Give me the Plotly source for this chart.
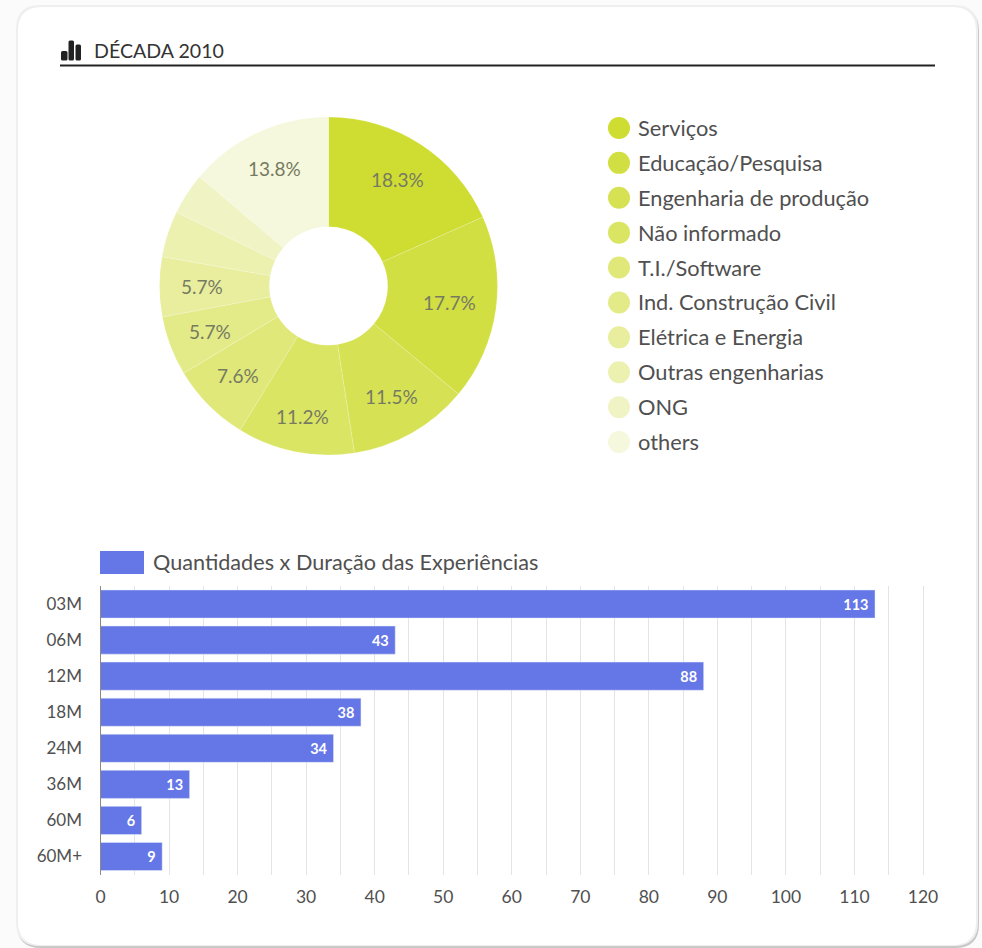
import math
import plotly.graph_objects as go

W, H = 982, 948

# Sector shares (%) for the decade
sectors = ["Serviços", "Educação/Pesquisa", "Engenharia de produção", "Não informado",
           "T.I./Software", "Ind. Construção Civil", "Elétrica e Energia",
           "Outras engenharias", "ONG", "others"]
shares = [18.3, 17.7, 11.5, 11.2, 7.6, 5.7, 5.7, 4.4, 4.0, 13.8]
sector_colors = ["#cfdd33", "#d2df42", "#d6e254", "#dae564", "#dfe878",
                 "#e3eb89", "#e8ee9e", "#ecf1b0", "#f0f4c4", "#f5f8dc"]
label_radius = [127, 122, 127, 133, 127, 127, 127, 127, 127, 129]

# Number of experiences per duration bucket
durations = ["03M", "06M", "12M", "18M", "24M", "36M", "60M", "60M+"]
counts = [113, 43, 88, 38, 34, 13, 6, 9]
x_ticks = list(range(0, 121, 10))

FONT = "Lato"
TEXT = "#505050"


def px(x):
    return x / W


def py(y):
    return 1 - y / H


def rounded(x0, y0, x1, y1, r):
    """Rounded rectangle path, in paper coordinates, from pixel corners."""
    p = lambda x, y: f"{px(x):.5f},{py(y):.5f}"
    return (f"M{p(x0 + r, y0)} L{p(x1 - r, y0)} Q{p(x1, y0)} {p(x1, y0 + r)} "
            f"L{p(x1, y1 - r)} Q{p(x1, y1)} {p(x1 - r, y1)} L{p(x0 + r, y1)} "
            f"Q{p(x0, y1)} {p(x0, y1 - r)} L{p(x0, y0 + r)} Q{p(x0, y0)} {p(x0 + r, y0)} Z")


fig = go.Figure()

# Donut
CX, CY, R = 328.5, 286, 169
fig.add_trace(go.Pie(
    labels=sectors, values=shares, sort=False, direction="clockwise", rotation=0,
    hole=0.35, marker=dict(colors=sector_colors, line=dict(color="rgba(255,255,255,0.35)", width=0.5)),
    textinfo="none",
    domain=dict(x=[px(CX - R), px(CX + R)], y=[py(CY + R), py(CY - R)]),
    showlegend=False,
))

# Horizontal bars
fig.add_trace(go.Bar(
    x=counts, y=durations, orientation="h", marker=dict(color="#6576e6"),
    text=counts, texttemplate="%{text}\u00a0", textposition="inside",
    insidetextanchor="end", textangle=0,
    textfont=dict(family=FONT, size=14.5, color="white", weight="bold"),
    xaxis="x", yaxis="y", showlegend=False,
))

# Sector key: dots on a hidden axis with one row per sector
fig.add_trace(go.Scatter(
    x=[0] * len(sectors), y=sectors, mode="markers", cliponaxis=False,
    marker=dict(size=22, color=sector_colors), xaxis="x2", yaxis="y2",
    showlegend=False, hoverinfo="skip",
))

annotations = [
    dict(x=0, y=name, xref="x2", yref="y2", text=name, showarrow=False,
         xanchor="left", yanchor="middle", xshift=17, yshift=0.5,
         font=dict(family=FONT, size=21.8, color=TEXT))
    for name in sectors
]

# Percentage labels on the ring, at the middle of each slice; small slices stay unlabelled
total = sum(shares)
running = 0
for value, radius in zip(shares, label_radius):
    mid = (running + value / 2) / total * 2 * math.pi
    running += value
    if value < 5:
        continue
    annotations.append(dict(
        x=px(CX + radius * math.sin(mid)), y=py(CY - radius * math.cos(mid)),
        xref="paper", yref="paper", text=f"{value}%", showarrow=False,
        xanchor="center", yanchor="middle",
        font=dict(family=FONT, size=19, color="#777a62"),
    ))

annotations += [
    dict(x=px(92), y=py(51), xref="paper", yref="paper", text="DÉCADA 2010",
         showarrow=False, xanchor="left", yanchor="middle",
         font=dict(family=FONT, size=19.6, color="#333333")),
    dict(x=px(151), y=py(562), xref="paper", yref="paper",
         text="Quantidades x Duração das Experiências", showarrow=False,
         xanchor="left", yanchor="middle",
         font=dict(family=FONT, size=21.65, color=TEXT)),
]


def card_path(x0, y0, x1, y1, r, fill):
    return dict(type="path", path=rounded(x0, y0, x1, y1, r), xref="paper", yref="paper",
                layer="below", fillcolor=fill, line=dict(width=0))


shapes = [
    # Card with a soft edge
    card_path(17, 7, 979, 948, 24, "#c8c8c8"),
    card_path(16, 5, 978, 946, 24, "#efefef"),
    card_path(18, 7, 976, 945, 24, "#ffffff"),
    # Heading icon and rule
    card_path(61, 51, 67.5, 60.5, 1.5, "#222222"),
    card_path(68.5, 40.5, 74, 60.5, 1.5, "#222222"),
    card_path(75.5, 44.5, 81, 60.5, 1.5, "#222222"),
    dict(type="line", xref="paper", yref="paper", x0=px(60), x1=px(935), y0=py(65.5), y1=py(65.5),
         line=dict(color="#222222", width=2)),
    # Bar series key
    dict(type="rect", xref="paper", yref="paper", x0=px(100), x1=px(144), y0=py(551), y1=py(574),
         fillcolor="#6576e6", line=dict(width=0)),
]

fig.update_layout(
    width=W, height=H, autosize=False,
    margin=dict(l=0, r=0, t=0, b=0, pad=0, autoexpand=False),
    paper_bgcolor="#fbfbfb", plot_bgcolor="rgba(0,0,0,0)",
    font=dict(family=FONT, color=TEXT), bargap=0.22,
    annotations=annotations, shapes=shapes,
    xaxis=dict(domain=[px(100.5), px(925.06)], range=[0, 120.3], tickmode="array",
               tickvals=x_ticks, ticktext=[str(t) for t in x_ticks],
               ticks="outside", ticklen=6, tickcolor="rgba(0,0,0,0)",
               showgrid=True, gridcolor="#e4e4e4", gridwidth=1.2,
               minor=dict(dtick=5, tick0=0, showgrid=True, gridcolor="#e4e4e4", gridwidth=1.2),
               zeroline=False, showline=False, anchor="y",
               tickfont=dict(family=FONT, size=17.5, color=TEXT)),
    yaxis=dict(domain=[py(874.5), py(586)], range=[7.5, -0.5], type="category",
               categoryorder="array", categoryarray=durations, anchor="x",
               showgrid=False, zeroline=False, showline=True, linecolor="#8c8a80",
               linewidth=1.2, ticks="outside", ticklen=14, tickcolor="rgba(0,0,0,0)",
               tickfont=dict(family=FONT, size=17, color=TEXT)),
    xaxis2=dict(domain=[px(619) - 0.02, px(619) + 0.02], range=[-1, 1], visible=False,
                fixedrange=True, anchor="y2"),
    yaxis2=dict(domain=[py(459.5), py(110.5)], range=[9.5, -0.5], type="category",
                categoryorder="array", categoryarray=sectors, visible=False, anchor="x2"),
)

fig.write_html("out.html", config=dict(displayModeBar=False))
